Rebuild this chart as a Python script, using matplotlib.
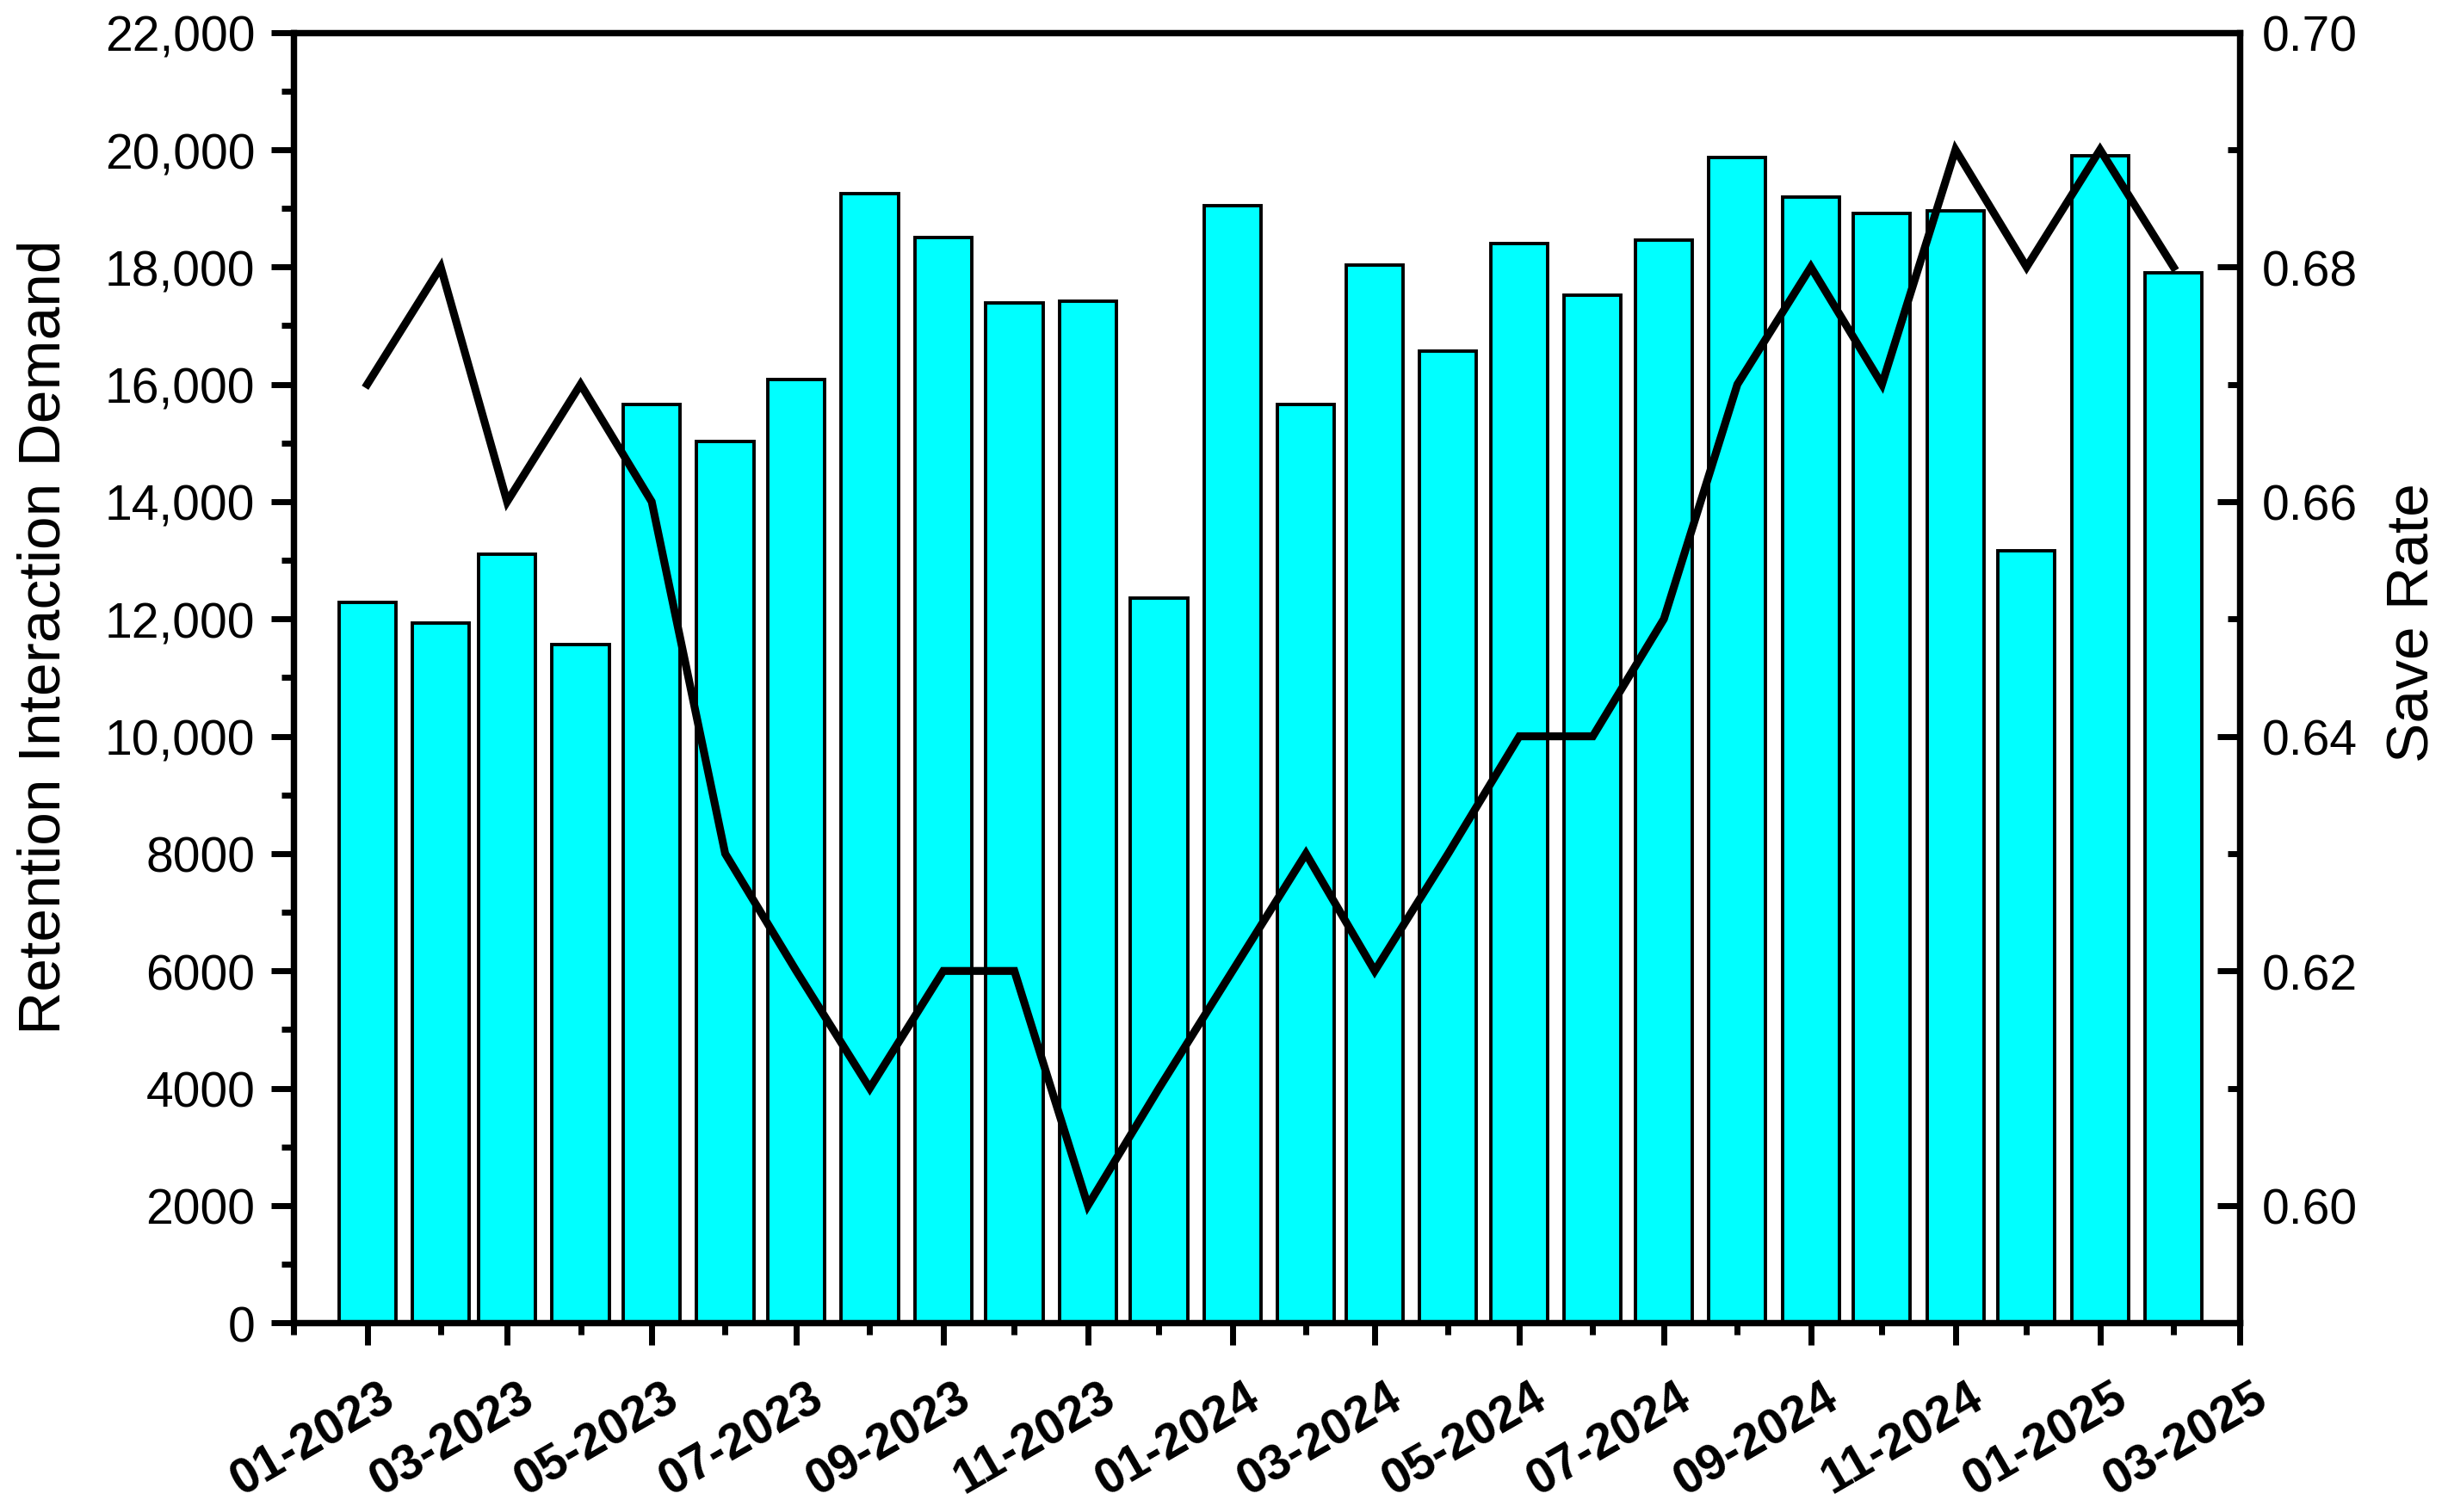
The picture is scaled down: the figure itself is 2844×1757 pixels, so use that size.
import datetime as dt
import matplotlib
matplotlib.use("Agg")
import matplotlib.pyplot as plt
import matplotlib.dates as mdates
import matplotlib.transforms as mtransforms
from matplotlib.ticker import FuncFormatter, MultipleLocator

plt.rcParams['font.family'] = ['Liberation Sans', 'DejaVu Sans']

months = ["01-2023", "02-2023", "03-2023", "04-2023", "05-2023", "06-2023",
          "07-2023", "08-2023", "09-2023", "10-2023", "11-2023", "12-2023",
          "01-2024", "02-2024", "03-2024", "04-2024", "05-2024", "06-2024",
          "07-2024", "08-2024", "09-2024", "10-2024", "11-2024", "12-2024",
          "01-2025", "02-2025"]
demand = [12280, 11930, 13100, 11560, 15660, 15020, 16090, 19250, 18510, 17390,
          17420, 12360, 19040, 15660, 18030, 16560, 18400, 17520, 18460, 19870,
          19200, 18910, 18960, 13160, 19890, 17900]
save_rate = [0.67, 0.68, 0.66, 0.67, 0.66, 0.63, 0.62, 0.61, 0.62, 0.62,
             0.60, 0.61, 0.62, 0.63, 0.62, 0.63, 0.64, 0.64, 0.65, 0.67,
             0.68, 0.67, 0.69, 0.68, 0.69, 0.68]

dates = [dt.datetime.strptime("01-" + m, "%d-%m-%Y") for m in months]

DPI = 200
fig = plt.figure(figsize=(14.22, 8.79), dpi=DPI)
ax = fig.add_axes([0.120, 0.125, 0.795, 0.853])
ax2 = ax.twinx()

ax.bar(dates, demand, width=24, color="#00FFFF", edgecolor="black", linewidth=1.4, zorder=2)
ax2.plot(dates, save_rate, color="black", linewidth=3.3, solid_joinstyle="miter", zorder=3)

ax.set_xlim(dt.datetime(2022, 12, 1), dt.datetime(2025, 3, 1))
ax.set_ylim(0, 22000)
ax2.set_ylim(0.59, 0.70)

ax.xaxis.set_major_locator(mdates.MonthLocator(bymonth=[1, 3, 5, 7, 9, 11]))
ax.xaxis.set_minor_locator(mdates.MonthLocator())
ax.xaxis.set_major_formatter(mdates.DateFormatter("%m-%Y"))

ax.yaxis.set_major_locator(MultipleLocator(2000))
ax.yaxis.set_minor_locator(MultipleLocator(1000))
ax.yaxis.set_major_formatter(FuncFormatter(lambda v, p: f"{int(v):,}" if v >= 10000 else f"{int(v)}"))

ax2.set_yticks([0.60, 0.62, 0.64, 0.66, 0.68, 0.70])
ax2.yaxis.set_minor_locator(MultipleLocator(0.01))
ax2.yaxis.set_major_formatter(FuncFormatter(lambda v, p: f"{v:.2f}"))

for a in (ax, ax2):
    for s in a.spines.values():
        s.set_linewidth(2.6)

ax.tick_params(which="major", direction="out", length=9.2, width=2.5, labelsize=20.5, pad=7)
ax.tick_params(which="minor", direction="out", length=5, width=2.5)
ax2.tick_params(which="major", direction="in", length=9.5, width=2.5, labelsize=20.5, pad=9)
ax2.tick_params(which="minor", direction="in", length=5, width=2.5)

offset = mtransforms.ScaledTranslation(14 / DPI, -14 / DPI, fig.dpi_scale_trans)
for lbl in ax.get_xticklabels():
    lbl.set_rotation(30)
    lbl.set_ha("right")
    lbl.set_rotation_mode("anchor")
    lbl.set_fontweight("bold")
    lbl.set_transform(lbl.get_transform() + offset)

ax.text(-0.128, 0.532, "Retention Interaction Demand", transform=ax.transAxes,
        rotation=90, ha="center", va="center", fontsize=25)
ax.text(1.089, 0.543, "Save Rate", transform=ax.transAxes,
        rotation=90, ha="center", va="center", fontsize=25)

fig.savefig("out.png", dpi=DPI)
